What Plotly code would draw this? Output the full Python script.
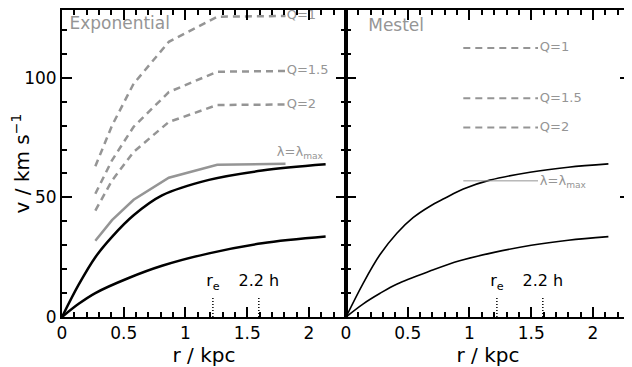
import plotly.graph_objects as go
from plotly.subplots import make_subplots

# ---- data ----
exp_r_hi = [0, 0.135, 0.27, 0.405, 0.58, 0.81, 1.19, 1.62, 2.135]
exp_v_hi = [0, 13.5, 25.0, 33.5, 42.5, 50.8, 57.3, 61.2, 63.8]
exp_r_lo = [0, 0.135, 0.27, 0.54, 0.81, 1.19, 1.62, 2.135]
exp_v_lo = [0, 5.5, 10.0, 16.3, 21.4, 26.6, 30.8, 33.6]

stab_r = [0.27, 0.405, 0.58, 0.865, 1.257, 1.81]
lam_max_v = [31.9, 40.5, 49.0, 58.2, 63.6, 64.0]
q1_v = [63.0, 80.0, 97.5, 115.0, 125.5, 125.8]
q15_v = [51.5, 65.5, 79.5, 94.0, 102.5, 102.8]
q2_v = [44.5, 57.0, 69.0, 81.5, 88.6, 88.8]
q_labels = ["Q=1", "Q=1.5", "Q=2"]

mes_r_hi = [0, 0.14, 0.273, 0.41, 0.543, 0.68, 0.8, 0.95, 1.165, 1.49, 1.8, 2.125]
mes_v_hi = [0, 14.2, 25.9, 34.9, 41.5, 46.3, 49.6, 53.5, 57.2, 60.5, 62.6, 64.0]
mes_r_lo = [0, 0.14, 0.273, 0.41, 0.68, 0.92, 1.2, 1.5, 1.8, 2.125]
mes_v_lo = [0, 5.5, 9.8, 13.7, 19.2, 23.5, 27.0, 30.0, 32.1, 33.6]
mes_line_r = [0.95, 1.555]
mes_q_v = [112.4, 91.4, 79.2]
mes_lam_v = 56.9

marker_r = [1.222, 1.594]
marker_top = 8.6
marker_labels = ["r<sub>e</sub>", "2.2 h"]

x_range = [0, 2.3]
y_range = [0, 128.3]

GRAY = "#959595"
FONT = "DejaVu Sans"

fig = make_subplots(rows=1, cols=2, horizontal_spacing=0)

def line(x, y, col, color, width, dash=None, shape="linear"):
    fig.add_trace(go.Scatter(x=x, y=y, mode="lines", hoverinfo="skip",
                             line=dict(color=color, width=width, dash=dash, shape=shape)), 1, col)

def label(texts, x, y, col, size, color, pos="middle right"):
    fig.add_trace(go.Scatter(x=x, y=y, mode="text", text=texts, textposition=pos,
                             textfont=dict(family=FONT, size=size, color=color),
                             hoverinfo="skip", cliponaxis=False), 1, col)

# left panel
line(exp_r_hi, exp_v_hi, 1, "black", 2.5, shape="spline")
line(exp_r_lo, exp_v_lo, 1, "black", 2.5, shape="spline")
line(stab_r, lam_max_v, 1, GRAY, 2.5)
for vals in (q1_v, q15_v, q2_v):
    line(stab_r, vals, 1, GRAY, 2.5, dash="7px,5px")
# right panel
line(mes_r_hi, mes_v_hi, 2, "black", 1.6, shape="spline")
line(mes_r_lo, mes_v_lo, 2, "black", 1.6, shape="spline")
for v in mes_q_v:
    line(mes_line_r, [v, v], 2, GRAY, 2, dash="7px,5px")
line(mes_line_r, [mes_lam_v, mes_lam_v], 2, GRAY, 1)
for col in (1, 2):
    for r in marker_r:
        line([r, r], [0, marker_top], col, "black", 1.5, dash="1px,2px")

# text labels
label(["Exponential"], [0.06], [122], 1, 17, GRAY)
label(["Mestel"], [0.18], [121.4], 2, 17, GRAY)
label(q_labels, [1.82] * 3, [q1_v[-1], q15_v[-1], q2_v[-1]], 1, 13, GRAY)
label(["λ=λ<sub>max</sub>"], [1.74], [68.5], 1, 13, GRAY)
label(q_labels, [1.57] * 3, mes_q_v, 2, 13, GRAY)
label(["λ=λ<sub>max</sub>"], [1.57], [mes_lam_v - 0.5], 2, 13, GRAY)
for col in (1, 2):
    label(marker_labels, marker_r, [14.5, 14.5], col, 16, "black", pos="middle center")

for col in (1, 2):
    fig.update_xaxes(showline=True, linecolor="black", linewidth=2, mirror="allticks",
                     ticks="inside", ticklen=10, tickwidth=2, tickcolor="black",
                     minor=dict(ticks="inside", ticklen=5, tickcolor="black", dtick=0.1),
                     row=1, col=col)
    fig.update_yaxes(showline=True, linecolor="black", linewidth=2, mirror="allticks",
                     ticks="inside", ticklen=10, tickwidth=2, tickcolor="black",
                     minor=dict(ticks="inside", ticklen=5, tickcolor="black", dtick=10),
                     row=1, col=col)
fig.update_xaxes(range=x_range, dtick=0.5, title_text="r / kpc", title_standoff=4)
fig.update_yaxes(range=y_range, dtick=50)
fig.update_yaxes(title_text="v / km s<sup>−1</sup>", title_standoff=0, row=1, col=1)
fig.update_yaxes(showticklabels=False, row=1, col=2)

fig.update_layout(template="simple_white", width=624, height=359,
                  font=dict(family=FONT, size=17, color="black"),
                  margin=dict(l=54, r=1, t=0, b=50),
                  showlegend=False)

fig.write_html("out.html")
